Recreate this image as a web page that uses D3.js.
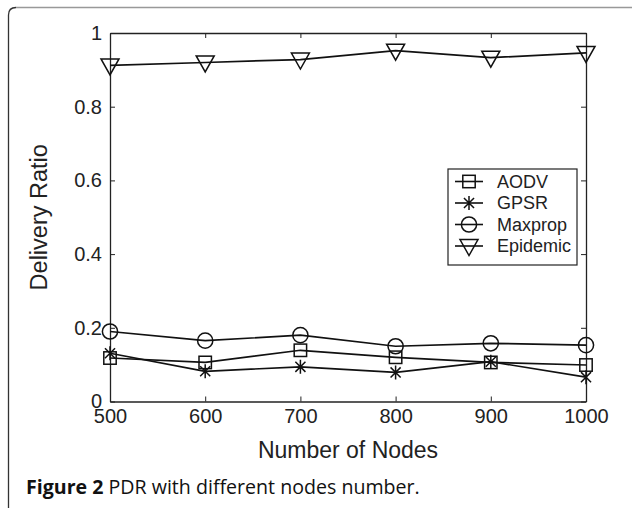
<!DOCTYPE html>
<html>
<head>
<meta charset="utf-8">
<script src="https://cdn.jsdelivr.net/npm/d3@7"></script>
<style>
  body { margin: 0; background: #fff; }
  svg { display: block; }
</style>
</head>
<body>
<div id="chart"></div>
<script>
// 데이터
const nodes = [500, 600, 700, 800, 900, 1000];
const aodv = [0.118, 0.106, 0.139, 0.120, 0.106, 0.099];
const gpsr = [0.131, 0.082, 0.094, 0.079, 0.108, 0.066];
const maxprop = [0.190, 0.165, 0.180, 0.150, 0.158, 0.153];
const epidemic = [0.912, 0.920, 0.928, 0.952, 0.933, 0.946];
const yTicks = [0, 0.2, 0.4, 0.6, 0.8, 1];
const seriesNames = ["AODV", "GPSR", "Maxprop", "Epidemic"];
const markers = ["square", "star", "circle", "triangle"];

const W = 632, H = 508;
const margin = {top: 33, right: 46, bottom: 106.5, left: 110};
const width = W - margin.left - margin.right;
const height = H - margin.top - margin.bottom;

const svg = d3.select("#chart").append("svg")
    .attr("width", W)
    .attr("height", H);

// 바깥 테두리 (왼쪽, 위쪽만)
svg.append("path")
    .attr("d", `M8.5,${H} L8.5,15 Q8.5,7.5 16,7.5`)
    .attr("fill", "none").attr("stroke", "#333").attr("stroke-width", 1.3);
svg.append("path")
    .attr("d", `M16,7.5 L${W},7.5`)
    .attr("fill", "none").attr("stroke", "#999").attr("stroke-width", 1.3);

const g = svg.append("g")
    .attr("transform", `translate(${margin.left},${margin.top})`);

const x = d3.scaleLinear().domain([500, 1000]).range([0, width]);
const y = d3.scaleLinear().domain([0, 1]).range([height, 0]);

const font = "'Liberation Sans', Arial, Helvetica, sans-serif";

// 축
const axB = g.append("g").attr("transform", `translate(0,${height})`)
    .call(d3.axisBottom(x).tickValues(nodes).tickSizeInner(-5).tickSizeOuter(0).tickPadding(7)
        .tickFormat(d3.format("d")));
const axT = g.append("g")
    .call(d3.axisTop(x).tickValues(nodes).tickSizeInner(-5).tickSizeOuter(0).tickFormat(""));
const axL = g.append("g")
    .call(d3.axisLeft(y).tickValues(yTicks).tickSizeInner(-5).tickSizeOuter(0).tickPadding(8)
        .tickFormat(d => d3.format("")(d)));
const axR = g.append("g").attr("transform", `translate(${width},0)`)
    .call(d3.axisRight(y).tickValues(yTicks).tickSizeInner(-5).tickSizeOuter(0).tickFormat(""));

[axB, axT, axL, axR].forEach(a => {
    a.select(".domain").attr("stroke", "#222").attr("stroke-width", 1.3);
    a.selectAll(".tick line").attr("stroke", "#222").attr("stroke-width", 1);
    a.selectAll("text").style("font-family", font).style("font-size", "20px").attr("fill", "#222");
});

// 축 제목
g.append("text")
    .attr("x", width / 2).attr("y", height + 56)
    .attr("text-anchor", "middle")
    .style("font-family", font).style("font-size", "23px").attr("fill", "#222")
    .text("Number of Nodes");
g.append("text")
    .attr("transform", `translate(-63,${height / 2}) rotate(-90)`)
    .attr("text-anchor", "middle")
    .style("font-family", font).style("font-size", "23.5px").attr("fill", "#222")
    .text("Delivery Ratio");

// 마커 그리기
function drawMarker(sel, type, cx, cy) {
    const m = sel.append("g").attr("transform", `translate(${cx},${cy})`)
        .attr("fill", "none").attr("stroke", "#111").attr("stroke-width", 1.5);
    if (type === "square") {
        m.append("rect").attr("x", -6.2).attr("y", -6.2).attr("width", 12.4).attr("height", 12.4);
    } else if (type === "circle") {
        m.append("circle").attr("r", 7.6);
    } else if (type === "triangle") {
        m.append("path").attr("d", "M-9,-6.5 L9,-6.5 L0,9.5 Z");
    } else {
        const r = 7, d = r * 0.72;
        m.append("path").attr("d", `M0,${-r}L0,${r}M${-d},${-d}L${d},${d}M${-d},${d}L${d},${-d}`);
    }
}

const allSeries = [aodv, gpsr, maxprop, epidemic];
const line = d3.line().x((d, i) => x(nodes[i])).y(d => y(d));

allSeries.forEach((vals, k) => {
    g.append("path").datum(vals)
        .attr("fill", "none").attr("stroke", "#111").attr("stroke-width", 1.7)
        .attr("d", line);
    vals.forEach((v, i) => drawMarker(g, markers[k], x(nodes[i]), y(v)));
});

// 범례
const lg = g.append("g").attr("transform", `translate(${448 - margin.left},${169 - margin.top})`);
lg.append("rect").attr("x", 0).attr("y", 0).attr("width", 129).attr("height", 96)
    .attr("fill", "#fff").attr("stroke", "#222").attr("stroke-width", 1.2);
seriesNames.forEach((name, k) => {
    const ly = 12.5 + k * 21.5;
    lg.append("line").attr("x1", 7).attr("x2", 35).attr("y1", ly).attr("y2", ly)
        .attr("stroke", "#111").attr("stroke-width", 1.6);
    drawMarker(lg, markers[k], 21, ly);
    lg.append("text").attr("x", 49).attr("y", ly).attr("dy", "0.36em")
        .style("font-family", font).style("font-size", "18px").attr("fill", "#222")
        .text(name);
});

// 캡션
const cap = svg.append("text").attr("x", 26).attr("y", 494)
    .style("font-family", "'Open Sans', 'Noto Sans', sans-serif").style("font-size", "19.6px").attr("fill", "#111");
cap.append("tspan").style("font-weight", "bold").text("Figure 2");
cap.append("tspan").text(" PDR with different nodes number.");
</script>
</body>
</html>
